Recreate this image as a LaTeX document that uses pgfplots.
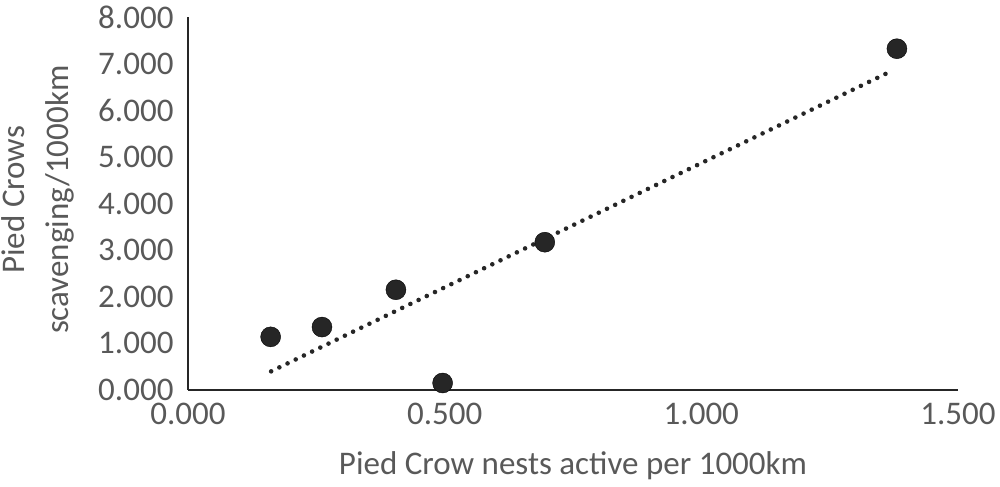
\documentclass[border=0pt]{standalone}
\usepackage{pgfplots}
\pgfplotsset{compat=1.18}
\usepackage{fontspec}
\setmainfont{Carlito}
\definecolor{txt}{HTML}{595959}
\definecolor{dk}{HTML}{262626}
\begin{document}
\begin{tikzpicture}
\useasboundingbox (0,0) rectangle (1000bp,487bp);
\begin{axis}[
  at={(188bp,97bp)}, anchor=south west,
  scale only axis, width=770bp, height=373bp,
  xmin=0, xmax=1.5, ymin=0, ymax=8,
  axis lines=left,
  axis line style={-, dk, line width=1.6bp},
  xtick={0,0.5,1,1.5}, ytick={0,1,2,3,4,5,6,7,8},
  major tick length=0pt,
  /pgf/number format/assume math mode=true,
  /pgf/number format/.cd, fixed, fixed zerofill, precision=3, 1000 sep={},
  /pgfplots/.cd,
  ticklabel style={font=\fontsize{33bp}{38bp}\selectfont, text=txt},
  yticklabel style={xshift=-11bp},
  xticklabel style={yshift=-10bp},
  xlabel={Pied Crow nests active per 1000km},
  ylabel={Pied Crows\\scavenging/1000km},
  label style={font=\fontsize{33bp}{44bp}\selectfont, text=txt},
  xlabel style={at={(axis description cs:0.5,-0.204)}, anchor=center},
  ylabel style={at={(axis description cs:-0.195,0.51)}, anchor=center, align=center},
  clip=false,
]
\addplot[dk, line width=4.6bp, line cap=round, dash pattern=on 0pt off 9.1bp]
  coordinates {(0.162,0.40) (1.372,6.85)};
\addplot[only marks, mark=*, mark size=10bp, mark options={fill=dk, draw=none}]
  coordinates {
  (0.161,1.14)
  (0.261,1.35)
  (0.405,2.15)
  (0.496,0.15)
  (0.695,3.17)
  (1.381,7.32)
  };
\end{axis}
\end{tikzpicture}
\end{document}
